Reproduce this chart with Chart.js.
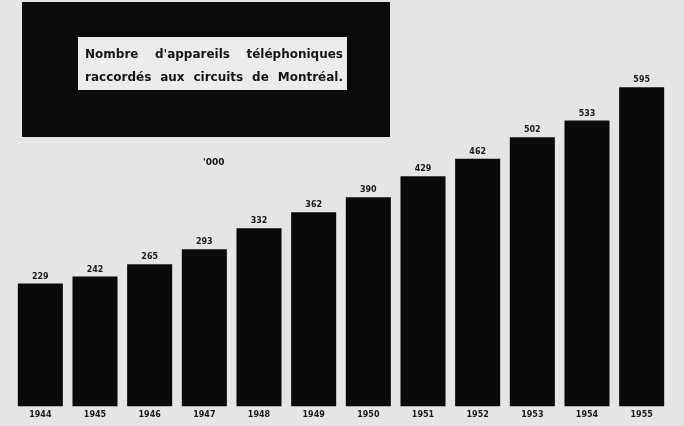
<!DOCTYPE html>
<html>
<head>
<meta charset="utf-8">
<script src="https://cdn.jsdelivr.net/npm/chart.js@4/dist/chart.umd.min.js"></script>
<style>
  html, body { margin: 0; padding: 0; background: #e5e5e5; overflow: hidden; }
  #wrap { width: 684px; height: 426px; position: relative; }
  canvas { display: block; }
</style>
</head>
<body>
<div id="wrap"><canvas id="phones" width="684" height="426"></canvas></div>
<script>
// Data (thousands of telephones)
const years = ["1944", "1945", "1946", "1947", "1948", "1949", "1950", "1951", "1952", "1953", "1954", "1955"];
const phones = [229, 242, 265, 293, 332, 362, 390, 429, 462, 502, 533, 595];
const titleLines = ["Nombre d'appareils téléphoniques", "raccordés aux circuits de Montréal."];
const unitLabel = "'000";

// Black title box with the white label inside
const titleBox = {
  id: "titleBox",
  beforeDatasetsDraw(chart) {
    const ctx = chart.ctx;
    ctx.save();
    ctx.fillStyle = "#0b0b0b";
    ctx.fillRect(22, 2, 368, 135);
    ctx.fillStyle = "#ececec";
    ctx.fillRect(78, 37, 269, 53);

    // justify each line's words across the label
    ctx.fillStyle = "#151515";
    ctx.font = "bold 12px 'DejaVu Sans'";
    ctx.textBaseline = "middle";
    const left = 85, right = 343;
    titleLines.forEach((line, i) => {
      const words = line.split(" ");
      const widths = words.map((w) => ctx.measureText(w).width);
      const total = widths.reduce((a, b) => a + b, 0);
      const gap = (right - left - total) / (words.length - 1);
      let x = left;
      const y = i === 0 ? 55 : 78;
      words.forEach((w, j) => {
        ctx.fillText(w, x, y);
        x += widths[j] + gap;
      });
    });

    ctx.font = "bold 9px 'DejaVu Sans'";
    ctx.textAlign = "left";
    ctx.fillText(unitLabel, 203, 163);
    ctx.restore();
  },
};

// Value on top of each bar
const barValues = {
  id: "barValues",
  afterDatasetsDraw(chart) {
    const ctx = chart.ctx;
    const meta = chart.getDatasetMeta(0);
    ctx.save();
    ctx.fillStyle = "#1a1a1a";
    ctx.font = "bold 8px 'DejaVu Sans'";
    ctx.textAlign = "center";
    ctx.textBaseline = "bottom";
    meta.data.forEach((bar, i) => {
      ctx.fillText(String(phones[i]), bar.x, bar.y - 3);
    });
    ctx.restore();
  },
};

new Chart(document.getElementById("phones"), {
  type: "bar",
  data: {
    labels: years,
    datasets: [
      {
        data: phones,
        backgroundColor: "#0a0a0a",
        borderWidth: 0,
        categoryPercentage: 1,
        barPercentage: 0.824,
      },
    ],
  },
  options: {
    responsive: false,
    animation: false,
    devicePixelRatio: 1,
    layout: { padding: { left: 13, right: 15, top: 31, bottom: 2 } },
    plugins: {
      legend: { display: false },
      tooltip: { enabled: false },
    },
    scales: {
      x: {
        grid: { display: false, drawTicks: false },
        border: { display: false },
        ticks: {
          color: "#1a1a1a",
          font: { family: "'DejaVu Sans'", size: 8, weight: "bold" },
          padding: 4,
          maxRotation: 0,
        },
      },
      y: {
        display: false,
        min: 0,
        max: 700,
      },
    },
  },
  plugins: [titleBox, barValues],
});
</script>
</body>
</html>
